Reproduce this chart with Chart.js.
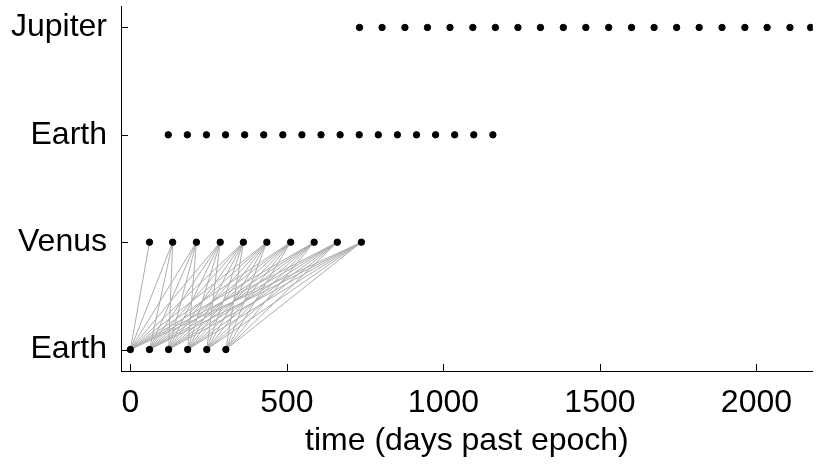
<!DOCTYPE html>
<html>
<head>
<meta charset="utf-8">
<script src="https://cdn.jsdelivr.net/npm/chart.js@4/dist/chart.umd.min.js"></script>
<style>
  html, body { margin: 0; padding: 0; background: #fff; }
  #wrap { width: 817px; height: 464px; }
</style>
</head>
<body>
<div id="wrap"><canvas id="myChart" width="817" height="464"></canvas></div>
<script>
// rows of the trajectory chart, bottom to top
const rowLabels = ['Earth', 'Venus', 'Earth', 'Jupiter'];

// encounter times (days past epoch) for each row
const earthLaunch = [0, 61, 122, 183, 244, 305];
const venusFlyby = [61, 135, 211, 287, 361, 436, 512, 587, 661, 738];
const earthFlyby = [121, 182, 243, 304, 365, 426, 487, 548, 609, 670, 731, 792, 853, 914, 975, 1036, 1097, 1158];
const jupiterArrival = [732, 804, 877, 949, 1021, 1094, 1166, 1238, 1310, 1383, 1455, 1528, 1601, 1673, 1745, 1817, 1890, 1963, 2034, 2107, 2173];

const xTicks = [0, 500, 1000, 1500, 2000];

// dots for every row
const dots = [];
[earthLaunch, venusFlyby, earthFlyby, jupiterArrival].forEach((times, row) => {
  times.forEach(t => dots.push({ x: t, y: row }));
});

// grey legs: each launch to every later Venus flyby, broken with null points
const legs = [];
earthLaunch.forEach(te => {
  venusFlyby.forEach(tv => {
    if (tv > te) {
      legs.push({ x: te, y: 0 }, { x: tv, y: 1 }, { x: tv, y: null });
    }
  });
});

const font = { family: "'Liberation Sans', Arial, sans-serif", size: 32 };

// short tick marks pointing into the plot
const innerTicks = {
  id: 'innerTicks',
  afterDraw(chart) {
    const c = chart.ctx;
    const area = chart.chartArea;
    const len = 7;
    c.save();
    c.strokeStyle = '#000';
    c.lineWidth = 1;
    c.beginPath();
    chart.scales.x.ticks.forEach(t => {
      const px = Math.round(chart.scales.x.getPixelForValue(t.value)) + 0.5;
      c.moveTo(px, area.bottom);
      c.lineTo(px, area.bottom - len);
    });
    chart.scales.y.ticks.forEach(t => {
      const py = Math.round(chart.scales.y.getPixelForValue(t.value)) + 0.5;
      c.moveTo(area.left, py);
      c.lineTo(area.left + len, py);
    });
    c.stroke();
    c.restore();
  }
};

new Chart(document.getElementById('myChart'), {
  type: 'scatter',
  data: {
    datasets: [
      {
        label: 'encounters',
        data: dots,
        backgroundColor: '#000',
        borderColor: '#000',
        pointRadius: 3.2,
        pointHoverRadius: 3.2,
        order: 0
      },
      {
        label: 'legs',
        data: legs,
        showLine: true,
        spanGaps: false,
        borderColor: '#acacac',
        borderWidth: 1,
        pointRadius: 0,
        order: 1
      }
    ]
  },
  options: {
    responsive: false,
    animation: false,
    layout: { padding: { top: 6, right: 0, bottom: 0, left: 0 } },
    plugins: { legend: { display: false }, tooltip: { enabled: false } },
    scales: {
      x: {
        type: 'linear',
        min: -30,
        max: 2180,
        afterFit(scale) {
          scale.height = 93;
          scale.paddingLeft = 0;
          scale.paddingRight = 0;
        },
        afterBuildTicks(scale) { scale.ticks = xTicks.map(v => ({ value: v })); },
        grid: { display: true, drawOnChartArea: false, drawTicks: false },
        border: { display: true, color: '#000', width: 1 },
        ticks: { color: '#000', font: font, padding: 13, maxRotation: 0, callback: v => String(v) },
        title: {
          display: true,
          text: 'time (days past epoch)',
          color: '#000',
          font: font,
          padding: { top: 0, bottom: 4 }
        }
      },
      y: {
        type: 'linear',
        min: -0.2,
        max: 3.2,
        afterFit(scale) {
          scale.width = 121;
          scale.paddingTop = 0;
          scale.paddingBottom = 0;
        },
        afterBuildTicks(scale) { scale.ticks = rowLabels.map((_, i) => ({ value: i })); },
        grid: { display: true, drawOnChartArea: false, drawTicks: false },
        border: { display: true, color: '#000', width: 1 },
        ticks: {
          color: '#000',
          font: font,
          padding: 14,
          callback: v => rowLabels[v]
        }
      }
    }
  },
  plugins: [innerTicks]
});
</script>
</body>
</html>
